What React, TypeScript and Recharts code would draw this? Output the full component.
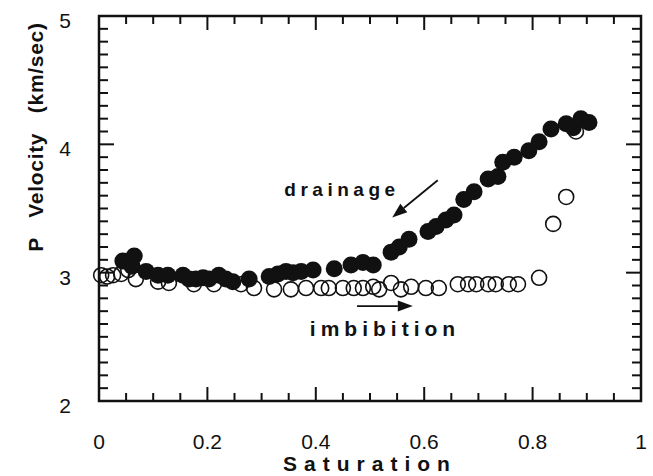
import React from 'react';
import {
  ScatterChart,
  Scatter,
  XAxis,
  YAxis,
  ReferenceArea,
  ReferenceLine,
  ReferenceDot,
} from 'recharts';

// axis ticks (labels only on the major ones)
const saturationTicks = [
  0, 0.05, 0.1, 0.15, 0.2, 0.25, 0.3, 0.35, 0.4, 0.45, 0.5,
  0.55, 0.6, 0.65, 0.7, 0.75, 0.8, 0.85, 0.9, 0.95, 1,
];
const velocityTicks = [
  2, 2.1, 2.2, 2.3, 2.4, 2.5, 2.6, 2.7, 2.8, 2.9, 3,
  3.1, 3.2, 3.3, 3.4, 3.5, 3.6, 3.7, 3.8, 3.9, 4,
  4.1, 4.2, 4.3, 4.4, 4.5, 4.6, 4.7, 4.8, 4.9, 5,
];

// drainage (filled circles)
const drainageSat = [
  0.044, 0.061, 0.065, 0.087, 0.109, 0.127, 0.155, 0.166, 0.179, 0.192,
  0.203, 0.221, 0.234, 0.247, 0.277, 0.314, 0.33, 0.345, 0.358, 0.373,
  0.395, 0.434, 0.465, 0.487, 0.506, 0.539, 0.554, 0.572, 0.607, 0.622,
  0.64, 0.655, 0.673, 0.692, 0.718, 0.736, 0.745, 0.766, 0.793, 0.812,
  0.834, 0.862, 0.875, 0.889, 0.904,
];
const drainageVel = [
  3.09, 3.05, 3.13, 3.01, 2.98, 2.98, 2.98, 2.95, 2.95, 2.96,
  2.95, 2.98, 2.95, 2.93, 2.95, 2.97, 2.99, 3.01, 3.0, 3.01,
  3.02, 3.03, 3.06, 3.08, 3.06, 3.16, 3.2, 3.26, 3.32, 3.36,
  3.41, 3.45, 3.57, 3.63, 3.73, 3.75, 3.86, 3.9, 3.95, 4.02,
  4.12, 4.16, 4.13, 4.2, 4.17,
];

// imbibition (open circles)
const imbibitionSat = [
  0.004, 0.015, 0.026, 0.041, 0.054, 0.068, 0.109, 0.129, 0.175, 0.212,
  0.262, 0.286, 0.323, 0.354, 0.382, 0.41, 0.424, 0.45, 0.47, 0.487,
  0.506, 0.517, 0.539, 0.557, 0.576, 0.603, 0.627, 0.662, 0.681, 0.696,
  0.718, 0.732, 0.756, 0.773, 0.812, 0.838, 0.862, 0.88,
];
const imbibitionVel = [
  2.98, 2.97, 2.98, 2.99, 3.02, 2.95, 2.93, 2.92, 2.91, 2.91,
  2.91, 2.88, 2.87, 2.87, 2.88, 2.88, 2.88, 2.88, 2.88, 2.88,
  2.89, 2.87, 2.92, 2.87, 2.89, 2.88, 2.88, 2.91, 2.91, 2.91,
  2.91, 2.91, 2.91, 2.91, 2.96, 3.38, 3.59, 4.1,
];

const drainageData = drainageSat.map((x, i) => ({ x, y: drainageVel[i] }));
const imbibitionData = imbibitionSat.map((x, i) => ({ x, y: imbibitionVel[i] }));

const FONT = '"Liberation Sans", Arial, Helvetica, sans-serif';
const INK = '#111';
const PLOT_W = 542;
const PLOT_H = 385;

const isMajor = (v: number, step: number) =>
  Math.abs(v / step - Math.round(v / step)) < 1e-6;

// ticks point inward, on both opposite sides of the frame
const XTick = (props: any) => {
  const { x, y, payload } = props;
  const v = payload.value;
  const major = isMajor(v, 0.2);
  const len = major ? 14 : 8;
  return (
    <g>
      <line x1={x} y1={y} x2={x} y2={y - len} stroke={INK} strokeWidth={2} />
      <line x1={x} y1={y - PLOT_H} x2={x} y2={y - PLOT_H + len} stroke={INK} strokeWidth={2} />
      {major && (
        <text x={x} y={y + 48} textAnchor="middle" fontFamily={FONT} fontSize={21} fill={INK}>
          {v === 0 || v === 1 ? String(v) : v.toFixed(1)}
        </text>
      )}
    </g>
  );
};

const YTick = (props: any) => {
  const { x, y, payload } = props;
  const v = payload.value;
  const major = isMajor(v, 1);
  const len = major ? 15 : 9;
  return (
    <g>
      <line x1={x} y1={y} x2={x + len} y2={y} stroke={INK} strokeWidth={2} />
      <line x1={x + PLOT_W} y1={y} x2={x + PLOT_W - len} y2={y} stroke={INK} strokeWidth={2} />
      {major && (
        <text x={x - 28} y={y + 12} textAnchor="end" fontFamily={FONT} fontSize={21} fill={INK}>
          {String(v)}
        </text>
      )}
    </g>
  );
};

const FilledDot = (p: any) => <circle cx={p.cx} cy={p.cy} r={8.5} fill={INK} />;
const OpenDot = (p: any) => (
  <circle cx={p.cx} cy={p.cy} r={7.5} fill="none" stroke={INK} strokeWidth={1.6} />
);

const Arrow = (p: any) => {
  const { x1, y1, x2, y2 } = p;
  const a = Math.atan2(y2 - y1, x2 - x1);
  const c = Math.cos(a);
  const s = Math.sin(a);
  const L = 15;
  const W = 5.5;
  const bx = x2 - L * c;
  const by = y2 - L * s;
  return (
    <g>
      <line x1={x1} y1={y1} x2={bx} y2={by} stroke={INK} strokeWidth={1.8} />
      <polygon
        points={`${x2},${y2} ${bx - s * W},${by + c * W} ${bx + s * W},${by - c * W}`}
        fill={INK}
      />
    </g>
  );
};

const note = (text: string, size: number, spacing: number) => (p: any) => (
  <text
    x={p.cx}
    y={p.cy}
    fontFamily={FONT}
    fontWeight="bold"
    fontSize={size}
    letterSpacing={spacing}
    fill={INK}
  >
    {text}
  </text>
);

const SatTitle = (props: any) => {
  const vb = props.viewBox || { x: 99, y: 401, width: 542, height: 75 };
  return (
    <text
      x={vb.x + vb.width / 2}
      y={vb.y + 70}
      textAnchor="middle"
      fontFamily={FONT}
      fontWeight="bold"
      fontSize={21}
      letterSpacing={7}
      fill={INK}
    >
      Saturation
    </text>
  );
};

const VelTitle = (props: any) => {
  const vb = props.viewBox || { x: 0, y: 16, width: 99, height: 385 };
  const cx = vb.x + 43;
  const cy = vb.y + 121;
  return (
    <text
      x={cx}
      y={cy}
      transform={`rotate(-90 ${cx} ${cy})`}
      textAnchor="middle"
      fontFamily={FONT}
      fontWeight="bold"
      fontSize={21}
      letterSpacing={0.7}
      fill={INK}
      style={{ whiteSpace: 'pre' }}
    >
      {'P   Velocity   (km/sec)'}
    </text>
  );
};

export default function App() {
  return (
    <div style={{ position: 'absolute', left: 0, top: 0, width: 653, height: 476, background: '#fff' }}>
      <ScatterChart width={653} height={476} margin={{ top: 16, right: 12, bottom: 0, left: 0 }}>
        <XAxis
          type="number"
          dataKey="x"
          domain={[0, 1]}
          ticks={saturationTicks}
          interval={0}
          axisLine={false}
          tickLine={false}
          tickSize={0}
          tickMargin={0}
          height={75}
          tick={(p: any) => <XTick {...p} />}
          label={SatTitle}
        />
        <YAxis
          type="number"
          dataKey="y"
          domain={[2, 5]}
          ticks={velocityTicks}
          interval={0}
          axisLine={false}
          tickLine={false}
          tickSize={0}
          tickMargin={0}
          width={99}
          tick={(p: any) => <YTick {...p} />}
          label={VelTitle}
        />
        <ReferenceArea x1={0} x2={1} y1={2} y2={5} fill="none" stroke={INK} strokeWidth={2.5} />
        <Scatter data={imbibitionData} shape={OpenDot} isAnimationActive={false} />
        <Scatter data={drainageData} shape={FilledDot} isAnimationActive={false} />
        <ReferenceLine segment={[{ x: 0.625, y: 3.72 }, { x: 0.541, y: 3.43 }]} shape={Arrow} />
        <ReferenceLine segment={[{ x: 0.476, y: 2.74 }, { x: 0.579, y: 2.74 }]} shape={Arrow} />
        <ReferenceDot x={0.342} y={3.6} r={0} shape={note('drainage', 19, 4.5)} />
        <ReferenceDot x={0.389} y={2.51} r={0} shape={note('imbibition', 21, 5)} />
      </ScatterChart>
    </div>
  );
}
